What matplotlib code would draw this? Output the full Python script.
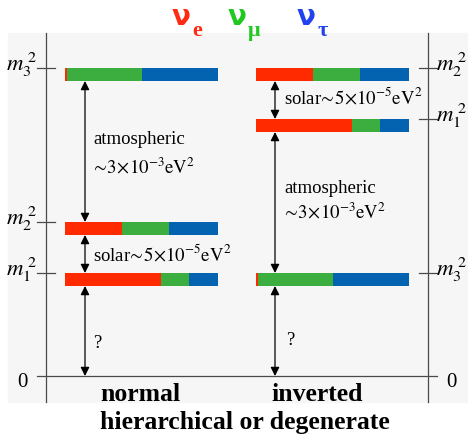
import matplotlib
matplotlib.use('Agg')
import matplotlib.pyplot as plt
from matplotlib.patches import Rectangle

# schematic mass-squared levels (drawing units above m=0), order: m1, m2, m3
states = ['1', '2', '3']
normal_levels = [103, 154, 308]
inverted_levels = [257, 308, 103]

# flavour content of each mass state, order: m1, m2, m3
flavors = ['e', 'μ', 'τ']
frac_e = [0.63, 0.37, 0.01]
frac_mu = [0.18, 0.31, 0.49]
frac_tau = [0.19, 0.32, 0.50]

bar_colors = ['#ff2a00', '#3cad3f', '#0463b1']
head_colors = ['#ff2a12', '#20c820', '#2242f0']

solar_label = r'solar$\!\sim\!5\!\times\!10^{-5}\mathrm{eV}^2$'
atm_label = r'$\!\sim\!3\!\times\!10^{-3}\mathrm{eV}^2$'

plt.rcParams['font.family'] = ['Liberation Serif', 'DejaVu Serif']
plt.rcParams['mathtext.fontset'] = 'stix'

fig = plt.figure(figsize=(4.68, 4.36), dpi=100)
ax = fig.add_axes([0, 0, 1, 1])
ax.set_xlim(0, 468)
ax.set_ylim(-60, 376)
ax.axis('off')

ax.add_patch(Rectangle((8, -26), 460, 369, color='#f6f6f6', zorder=0))

line_c = '#4a4a4a'
ax.plot([46, 46], [-26, 343], color=line_c, lw=0.9)
ax.plot([428, 428], [-26, 343], color=line_c, lw=0.9)
ax.plot([37, 437], [0, 0], color=line_c, lw=0.9)

bar_w = 153
bar_h = 13


def draw_column(levels, x0, tick_x, label_x, ha):
    for i, lev in enumerate(levels):
        fr = [frac_e[i], frac_mu[i], frac_tau[i]]
        left = x0
        for f, c in zip(fr, bar_colors):
            ax.barh(lev - bar_h / 2, f * bar_w, left=left, height=bar_h, color=c, zorder=2)
            left += f * bar_w
        ax.plot(tick_x, [lev, lev], color=line_c, lw=0.9)
        ax.text(label_x, lev + 4, r'$m_{%s}^{\,\,2}$' % states[i], fontsize=16.5,
                ha=ha, va='center')


def arrow(x, y1, y2):
    ax.annotate('', xy=(x, y2), xytext=(x, y1),
                arrowprops=dict(arrowstyle='<|-|>', color='black', lw=0.9,
                                mutation_scale=13, shrinkA=0, shrinkB=0))


draw_column(normal_levels, 65, [37, 55], 37, 'right')
draw_column(inverted_levels, 256, [419, 437], 436, 'left')

# normal ordering arrows
xa = 85
arrow(xa, normal_levels[2] - bar_h, normal_levels[1])
arrow(xa, normal_levels[1] - bar_h, normal_levels[0])
arrow(xa, normal_levels[0] - bar_h, 0)
ax.text(93, 232, 'atmospheric', fontsize=13.5)
ax.text(93, 202, atm_label, fontsize=13.5)
ax.text(93, 115, solar_label, fontsize=13.5)
ax.text(93, 28, '?', fontsize=13.5)

# inverted ordering arrows
xb = 275
arrow(xb, inverted_levels[1] - bar_h, inverted_levels[0])
arrow(xb, inverted_levels[0] - bar_h, inverted_levels[2])
arrow(xb, inverted_levels[2] - bar_h, 0)
ax.text(284, 272, solar_label, fontsize=13.5)
ax.text(284, 183, 'atmospheric', fontsize=13.5)
ax.text(284, 157, atm_label, fontsize=13.5)
ax.text(286, 31, '?', fontsize=13.5)

ax.text(17, -6, '0', fontsize=15, va='center')
ax.text(446, -6, '0', fontsize=15, va='center')

# flavour header
for fl, c, x in zip(flavors, head_colors, [172, 228, 297]):
    ax.text(x, 351, 'ν', fontsize=20, fontweight='bold', color=c,
            family='DejaVu Sans')
    ax.text(x + 20, 340, fl, fontsize=16, fontweight='bold', color=c)

ax.text(140, -25, 'normal', fontsize=18.5, fontweight='bold', ha='center')
ax.text(317, -25, 'inverted', fontsize=18.5, fontweight='bold', ha='center')
ax.text(245, -53, 'hierarchical or degenerate', fontsize=18.5, fontweight='bold',
        ha='center')

fig.savefig('out.png', dpi=100)
